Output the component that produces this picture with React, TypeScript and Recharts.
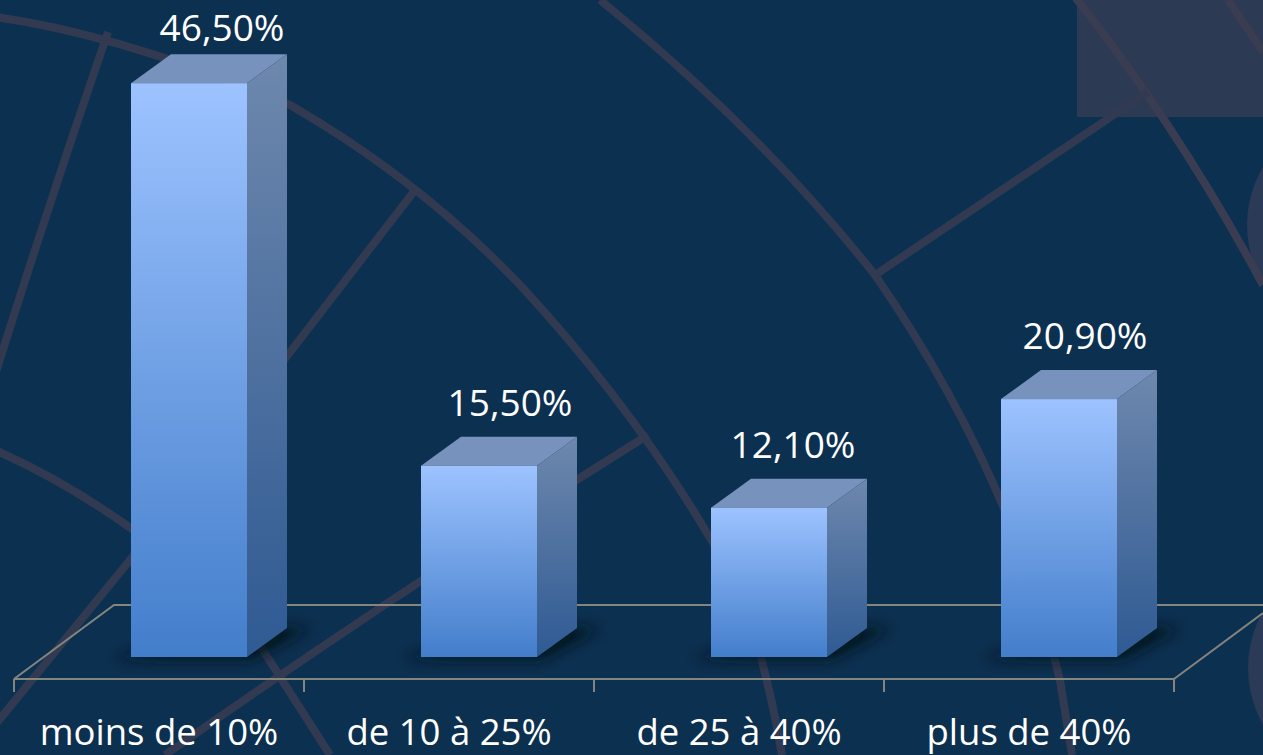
import { BarChart, Bar, XAxis, YAxis, LabelList } from "recharts";

const categories = ["moins de 10%", "de 10 à 25%", "de 25 à 40%", "plus de 40%"];
const shares = [46.5, 15.5, 12.1, 20.9];
const data = categories.map((name, i) => ({ name, share: shares[i] }));

const W = 1263;
const H = 755;
const BAND = 290;
const FONT = "'Open Sans', sans-serif";

// the 3D bars sit back on the floor: shifted from the front axis
const SHIFT_X = 30;
const SHIFT_Y = -22;
const DEPTH_X = 40;
const DEPTH_Y = -29;
// labels were hand placed in the original chart
const LABEL_NUDGE = [33, 31, 24, 26];

const AXIS = "#85857f";
const DECOR = "#323a52";

function Backdrop() {
  return (
    <svg
      width={W}
      height={H}
      style={{ position: "absolute", left: 0, top: 0 }}
    >
      <rect width={W} height={H} fill="#0c3050" />
      <rect x={1077} y={0} width={186} height={117} fill="#2d3a54" />
      <circle cx={1360} cy={225} r={113} fill="#2b3a56" />
      <circle cx={1362} cy={668} r={114} fill="#2b3a56" />
      <g fill="none" stroke={DECOR} strokeWidth={8}>
        <path d="M-20 15 Q 110 30 290 105 Q 420 180 520 285 Q 650 425 740 590 Q 768 670 782 755" />
        <path d="M600 0 Q 760 130 875 275 Q 1010 470 1060 680 L 1072 755" />
        <path d="M1075 -3 Q 1180 130 1263 285" stroke="#3a3d52" />
        <path d="M1228 0 L 1263 52" stroke="#3a3d52" />
        <path d="M108 32 Q 50 200 -5 375" />
        <path d="M415 190 L 130 560 L -5 725" />
        <path d="M648 435 Q 400 590 165 755" />
        <path d="M875 275 L 1148 92" />
        <path d="M-5 450 Q 130 510 250 630 L 330 755" />
      </g>
      <g fill="none" stroke={AXIS} strokeWidth={2}>
        <path d="M14 679 L114 605 L1263 605" />
        <path d="M1174 679 L1263 613" />
      </g>
    </svg>
  );
}

function Bar3D({ x, y, width, height }: any) {
  const l = x + SHIFT_X;
  const r = l + width;
  const t = y + SHIFT_Y;
  const b = t + height;
  return (
    <g>
      <polygon
        points={`${l - 18},${b + 2} ${r + 6},${b + 2} ${r + DEPTH_X + 24},${b + DEPTH_Y} ${r},${b + DEPTH_Y} ${l},${b - 4}`}
        fill="#04121f"
        filter="url(#barShadow)"
      />
      <polygon
        points={`${l},${t} ${l + DEPTH_X},${t + DEPTH_Y} ${r + DEPTH_X},${t + DEPTH_Y} ${r},${t}`}
        fill="#7792bd"
      />
      <polygon
        points={`${r},${t} ${r + DEPTH_X},${t + DEPTH_Y} ${r + DEPTH_X},${b + DEPTH_Y} ${r},${b}`}
        fill="url(#barSide)"
      />
      <rect x={l} y={t} width={width} height={height} fill="url(#barFront)" />
    </g>
  );
}

function ValueLabel({ x, y, width, value, index }: any) {
  return (
    <text
      x={x + width / 2 + SHIFT_X + LABEL_NUDGE[index]}
      y={Math.max(41, y + SHIFT_Y + DEPTH_Y - 21)}
      textAnchor="middle"
      fill="#ffffff"
      fontFamily={FONT}
      fontSize={37}
    >
      {`${value.toFixed(2).replace(".", ",")}%`}
    </text>
  );
}

function CategoryTick({ x, y, index, payload }: any) {
  const left = x - BAND / 2;
  return (
    <g>
      <line x1={left} y1={y - 8} x2={left} y2={y + 5} stroke={AXIS} strokeWidth={2} />
      {index === categories.length - 1 && (
        <line x1={x + BAND / 2} y1={y - 8} x2={x + BAND / 2} y2={y + 5} stroke={AXIS} strokeWidth={2} />
      )}
      <text x={x} y={y + 58} textAnchor="middle" fill="#ffffff" fontFamily={FONT} fontSize={36.5}>
        {payload.value}
      </text>
    </g>
  );
}

export default function App() {
  return (
    <div style={{ position: "fixed", left: 0, top: 0, width: W, height: H, overflow: "hidden" }}>
      <Backdrop />
      <div style={{ position: "absolute", left: 0, top: 0 }}>
        <BarChart
          width={W}
          height={H}
          data={data}
          margin={{ top: 62, right: 89, bottom: 0, left: 14 }}
          style={{ overflow: "visible" }}
        >
          <defs>
            <linearGradient id="barFront" x1="0" y1="0" x2="0" y2="1">
              <stop offset="0%" stopColor="#9dc3ff" />
              <stop offset="100%" stopColor="#437ecb" />
            </linearGradient>
            <linearGradient id="barSide" x1="0" y1="0" x2="0" y2="1">
              <stop offset="0%" stopColor="#6e88ad" />
              <stop offset="100%" stopColor="#2f5a93" />
            </linearGradient>
            <filter id="barShadow" x="-30%" y="-100%" width="160%" height="300%">
              <feGaussianBlur stdDeviation="7" />
            </filter>
          </defs>
          <XAxis
            dataKey="name"
            height={76}
            interval={0}
            axisLine={{ stroke: AXIS, strokeWidth: 2 }}
            tickLine={false}
            tick={<CategoryTick />}
          />
          <YAxis hide domain={[0, 50]} />
          <Bar dataKey="share" barSize={116} shape={<Bar3D />} isAnimationActive={false}>
            <LabelList dataKey="share" content={<ValueLabel />} />
          </Bar>
        </BarChart>
      </div>
    </div>
  );
}
